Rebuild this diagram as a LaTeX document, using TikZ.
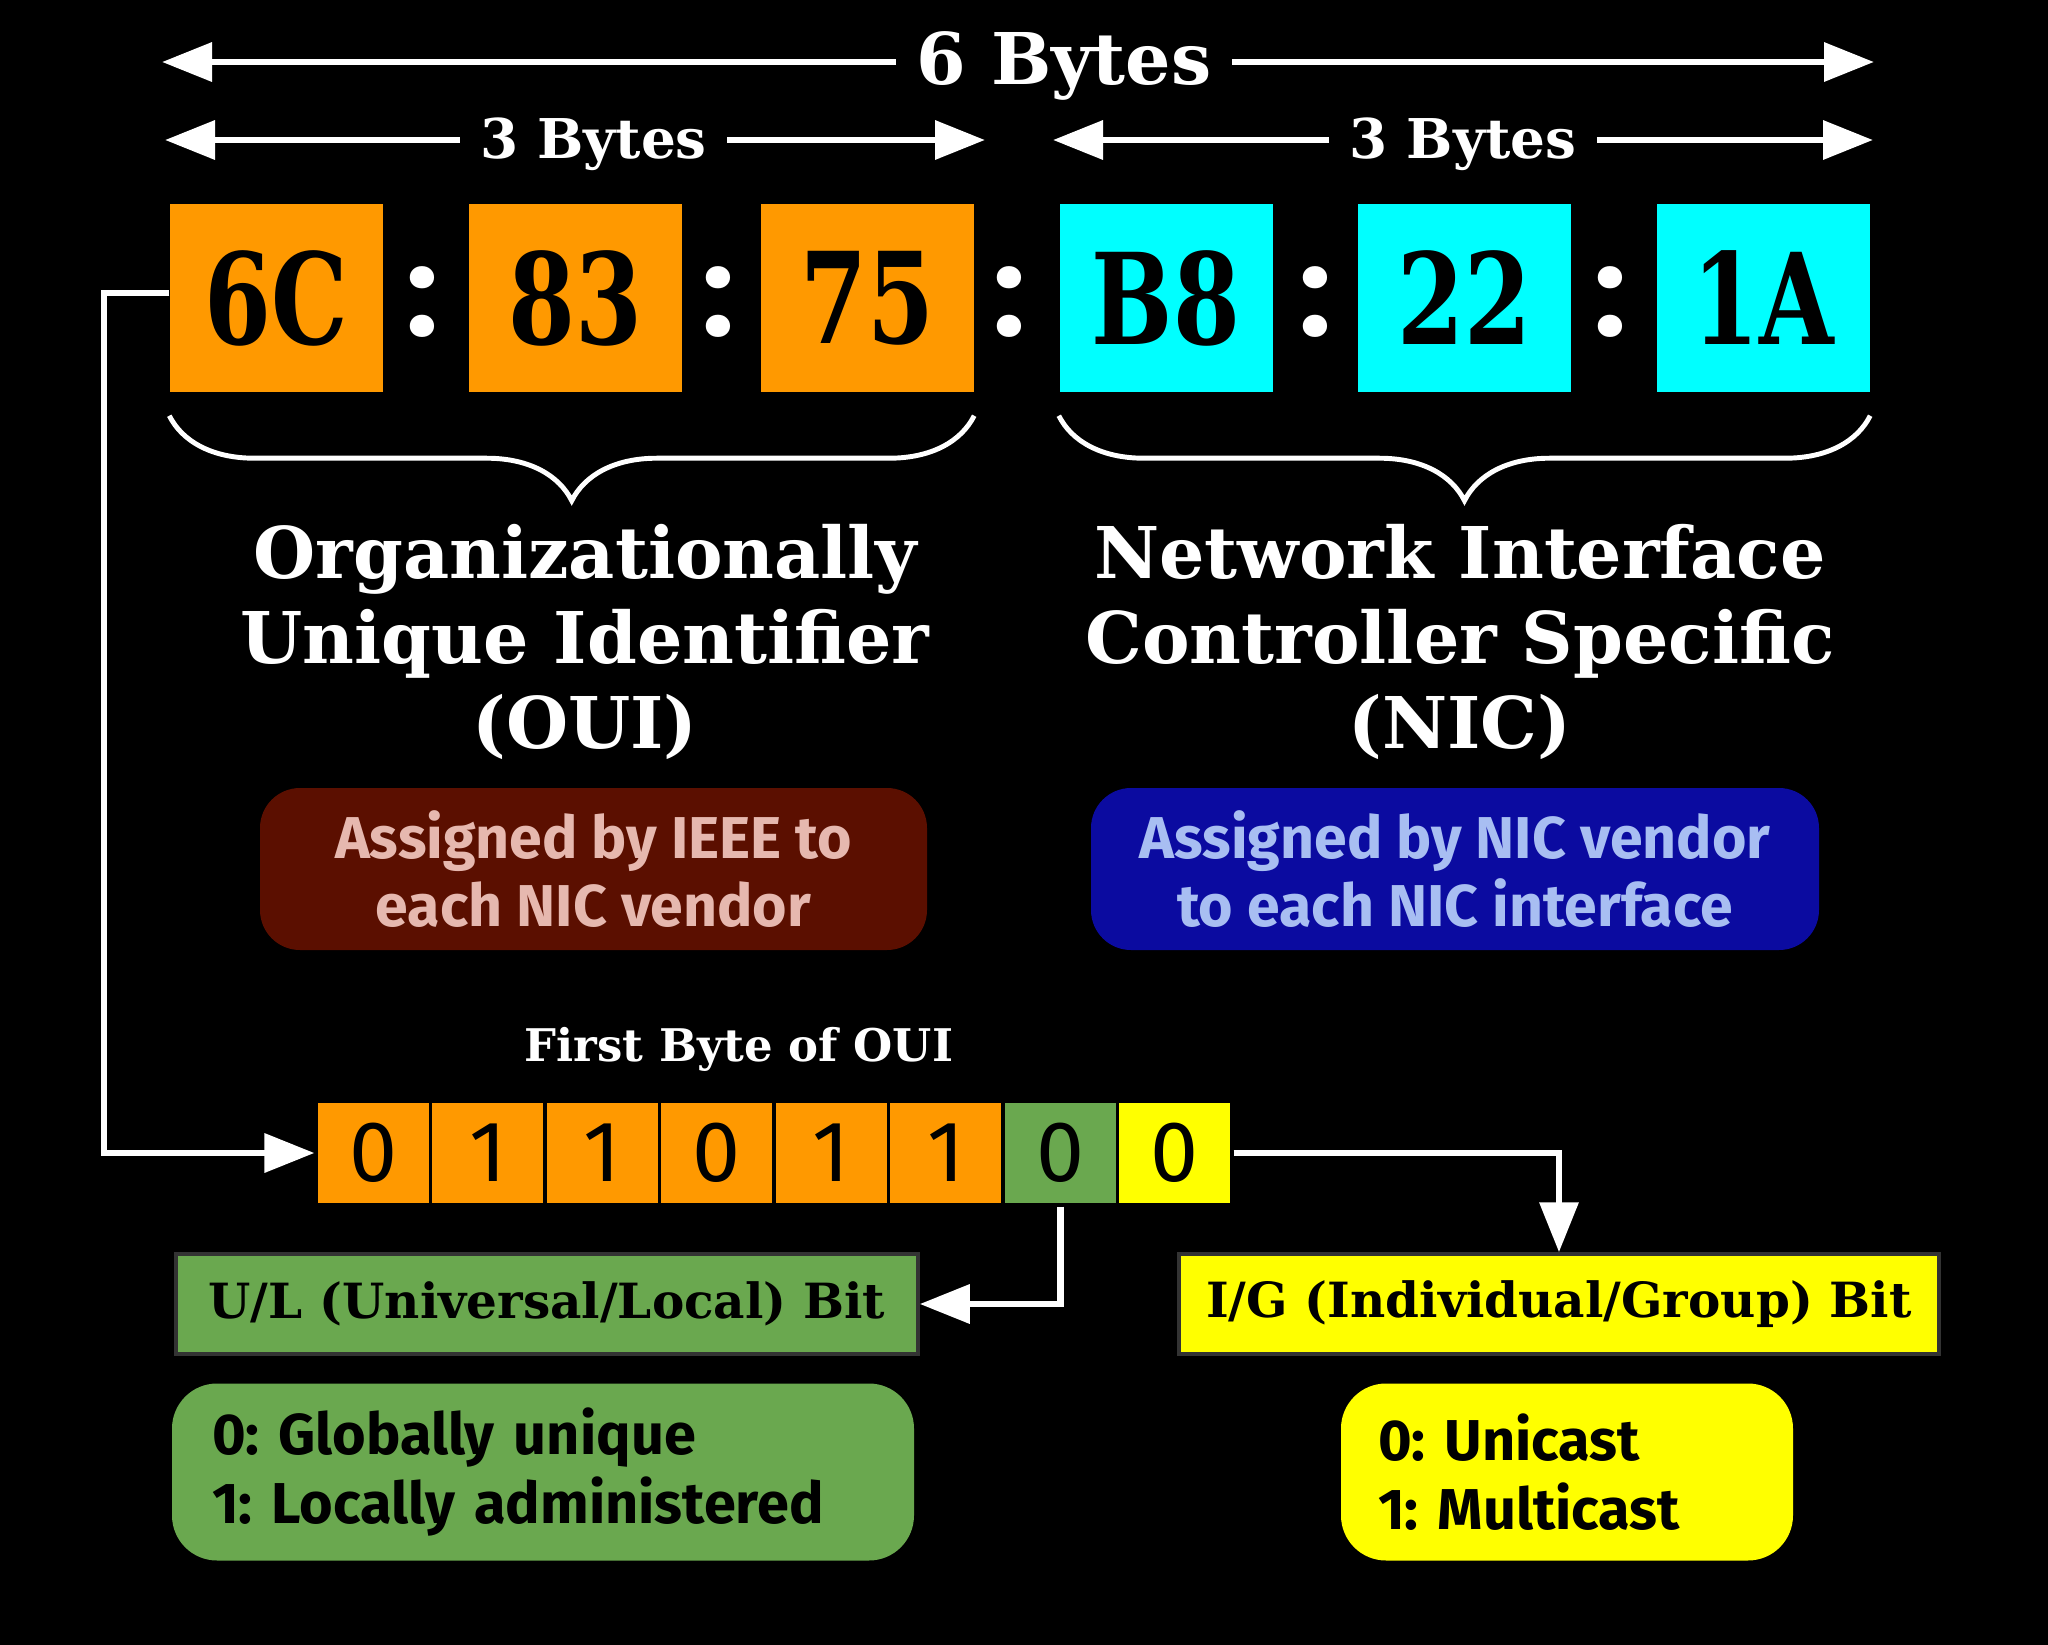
\documentclass[tikz,border=0pt]{standalone}
\usepackage{fontspec}
\setmainfont{DejaVu Serif}
\newfontfamily\sansfont{Fira Sans}
\newfontfamily\hexfont{DejaVu Serif}[FakeStretch=0.76]
\newfontfamily\colonfont{Poppins}
\usetikzlibrary{arrows.meta,decorations.pathreplacing}
\frenchspacing
\definecolor{macorange}{HTML}{FF9900}
\definecolor{maccyan}{HTML}{00FFFF}
\definecolor{macgreen}{HTML}{6AA84F}
\definecolor{macyellow}{HTML}{FFFF00}
\definecolor{ouired}{HTML}{5B0F00}
\definecolor{ouitext}{HTML}{E6B8AF}
\definecolor{nicblue}{HTML}{0B0BA0}
\definecolor{nictext}{HTML}{A8BEF2}
\tikzset{
    hexbox/.style={minimum width=2.13cm, minimum height=1.88cm, text=black, font=\hexfont\bfseries\fontsize{36}{36}\selectfont},
    colon/.style={text=white, font=\colonfont\bfseries\fontsize{34}{34}\selectfont},
    bytelbl/.style={text=white, inner xsep=0.2cm},
    arr/.style={white, line width=1.9pt, -{Triangle[length=0.5cm,width=0.38cm]}},
    brc/.style={white, line width=1.4pt, decorate, decoration={brace, mirror, amplitude=0.85cm}},
    title/.style={text=white, align=center, font=\bfseries\fontsize{20.3}{24.2}\selectfont},
    infobox/.style={rounded corners=0.4cm, minimum height=1.62cm, align=center, font=\sansfont\bfseries\fontsize{16.8}{19.6}\selectfont},
    bitbox/.style={draw=black, line width=0.9pt, minimum width=1.145cm, minimum height=1.04cm, text=black, font=\sansfont\fontsize{24.5}{24.5}\selectfont},
    bitlbl/.style={draw=black!80, line width=1pt, minimum height=1.0cm, text=black, font=\bfseries\fontsize{13.8}{13.8}\selectfont},
    valbox/.style={rounded corners=0.45cm, minimum height=1.77cm, align=left, text=black, font=\sansfont\bfseries\fontsize{16.4}{19.6}\selectfont}
}
\begin{document}
\begin{tikzpicture}[every node/.style={inner sep=0pt}]
    \path[fill=black, use as bounding box] (0,0) rectangle (20.48,-16.45);

    \node[bytelbl, font=\bfseries\fontsize{20.3}{20.3}\selectfont] (b6) at (10.64,-0.66) {6 Bytes};
    \coordinate (b6l) at (1.62,-0.62);
    \coordinate (b6r) at (18.74,-0.62);
    \draw[arr] (b6.west |- b6l) -- (b6l);
    \draw[arr] (b6.east |- b6r) -- (b6r);

    \node[bytelbl, font=\bfseries\fontsize{15.6}{15.6}\selectfont] (b3a) at (5.935,-1.44) {3 Bytes};
    \coordinate (b3al) at (1.65,-1.40);
    \coordinate (b3ar) at (9.85,-1.40);
    \draw[arr] (b3a.west |- b3al) -- (b3al);
    \draw[arr] (b3a.east |- b3ar) -- (b3ar);

    \node[bytelbl, font=\bfseries\fontsize{15.6}{15.6}\selectfont] (b3b) at (14.63,-1.44) {3 Bytes};
    \coordinate (b3bl) at (10.53,-1.40);
    \coordinate (b3br) at (18.73,-1.40);
    \draw[arr] (b3b.west |- b3bl) -- (b3bl);
    \draw[arr] (b3b.east |- b3br) -- (b3br);

    \node[hexbox, fill=macorange] (h1) at (2.765,-2.98) {6C};
    \node[hexbox, fill=macorange] (h2) at (5.755,-2.98) {83};
    \node[hexbox, fill=macorange] (h3) at (8.67,-2.98) {75};
    \node[hexbox, fill=maccyan] (h4) at (11.66,-2.98) {B8};
    \node[hexbox, fill=maccyan] (h5) at (14.645,-2.98) {22};
    \node[hexbox, fill=maccyan] (h6) at (17.63,-2.98) {1A};
    \node[colon] (c1) at (4.22,-3.02) {:};
    \node[colon] (c2) at (7.18,-3.02) {:};
    \node[colon] (c3) at (10.09,-3.02) {:};
    \node[colon] (c4) at (13.15,-3.02) {:};
    \node[colon] (c5) at (16.10,-3.02) {:};

    \draw[brc] ([yshift=-0.23cm]h1.south west) -- ([yshift=-0.23cm]h3.south east);
    \draw[brc] ([yshift=-0.23cm]h4.south west) -- ([yshift=-0.23cm]h6.south east);

    \node[title] (oui) at (5.85,-6.42) {Organizationally\\Unique Identifier\\(OUI)};
    \node[title] (nic) at (14.60,-6.42) {Network Interface\\Controller Specific\\(NIC)};

    \node[infobox, fill=ouired, text=ouitext, minimum width=6.67cm] (ieee) at (5.935,-8.69) {Assigned by IEEE to\\each NIC vendor};
    \node[infobox, fill=nicblue, text=nictext, minimum width=7.28cm] (vend) at (14.55,-8.69) {Assigned by NIC vendor\\to each NIC interface};

    \node[text=white, font=\bfseries\fontsize{12.8}{12.8}\selectfont] (fb) at (7.39,-10.49) {First Byte of OUI};

    \node[bitbox, fill=macorange] (b1) at (3.733,-11.53) {0};
    \node[bitbox, fill=macorange] (b2) at (4.878,-11.53) {1};
    \node[bitbox, fill=macorange] (b3) at (6.023,-11.53) {1};
    \node[bitbox, fill=macorange] (b4) at (7.168,-11.53) {0};
    \node[bitbox, fill=macorange] (b5) at (8.313,-11.53) {1};
    \node[bitbox, fill=macorange] (b6b) at (9.458,-11.53) {1};
    \node[bitbox, fill=macgreen] (b7) at (10.603,-11.53) {0};
    \node[bitbox, fill=macyellow] (b8) at (11.748,-11.53) {0};

    \node[bitlbl, fill=macgreen, minimum width=7.42cm] (ul) at (5.47,-13.04) {U/L (Universal/Local) Bit};
    \node[bitlbl, fill=macyellow, minimum width=7.60cm] (ig) at (15.59,-13.04) {I/G (Individual/Group) Bit};

    \node[valbox, fill=macgreen, inner xsep=0.4cm, text width=6.62cm] (glob) at (5.43,-14.72) {0: Globally unique\\1: Locally administered};
    \node[valbox, fill=macyellow, inner xsep=0.37cm, text width=3.78cm] (cast) at (15.67,-14.72) {0: Unicast\\1: Multicast};

    \coordinate (lft) at (1.04,-2.93);
    \draw[arr] (h1.west |- lft) -- (lft) |- (b1.west);
    \draw[arr] (b7.south) |- (ul.east);
    \draw[arr] (b8.east) -| (ig.north);
\end{tikzpicture}
\end{document}
